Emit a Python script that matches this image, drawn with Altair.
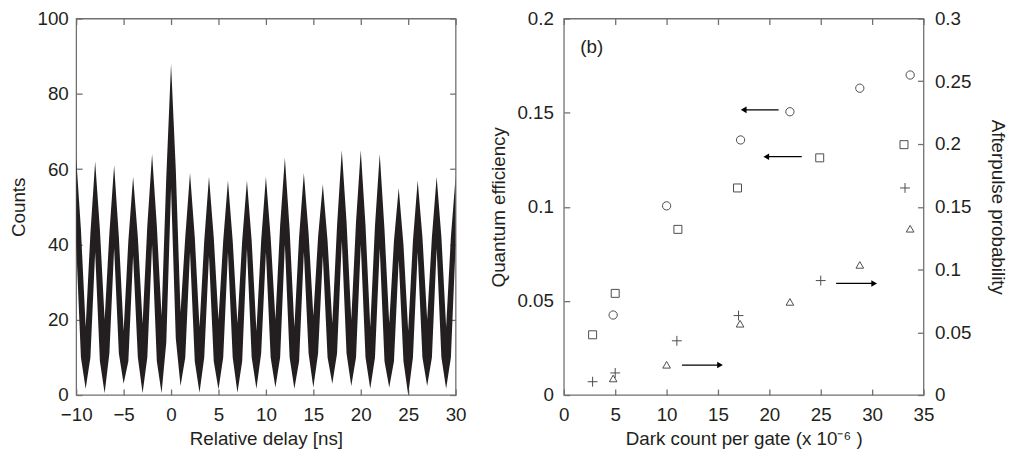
import altair as alt
import pandas as pd

FONT = "Liberation Sans"
TXT = "#231f20"
AXC = "#707070"
FS = 19

# ---------------- left panel: counts vs relative delay ----------------
# upper / lower edge of the dense histogram trace, read every 0.5 ns from -10 to 30 ns
delay_ns = [-10, -9.5, -9, -8.5, -8, -7.5, -7, -6.5, -6, -5.5, -5, -4.5, -4, -3.5, -3, -2.5,
            -2, -1.5, -1, -0.5, 0, 0.5, 1, 1.5, 2, 2.5, 3, 3.5, 4, 4.5, 5, 5.5,
            6, 6.5, 7, 7.5, 8, 8.5, 9, 9.5, 10, 10.5, 11, 11.5, 12, 12.5, 13, 13.5,
            14, 14.5, 15, 15.5, 16, 16.5, 17, 17.5, 18, 18.5, 19, 19.5, 20, 20.5, 21, 21.5,
            22, 22.5, 23, 23.5, 24, 24.5, 25, 25.5, 26, 26.5, 27, 27.5, 28, 28.5, 29, 29.5, 30]
counts_upper = [63, 44, 18, 43, 62, 44, 20, 43, 61, 42, 17, 41, 58, 42, 19, 45,
                64, 45, 21, 58, 88, 60, 22, 42, 59, 42, 18, 41, 58, 42, 20, 41,
                57, 41, 19, 41, 57, 41, 17, 41, 58, 42, 20, 45, 63, 44, 18, 42,
                59, 43, 21, 42, 56, 41, 19, 45, 65, 46, 20, 46, 65, 45, 18, 45,
                64, 44, 19, 41, 55, 40, 17, 41, 57, 42, 20, 42, 58, 42, 18, 42, 58]
counts_lower = [40, 10, 1.7, 10, 38, 9, 0.5, 11, 39, 11, 3, 9, 37, 10, 0.5, 10,
                40, 9, 0.5, 14, 55, 15, 2.4, 10, 38, 9, 0.6, 10, 37, 9, 1.5, 10,
                38, 10, 0.6, 9, 39, 10, 1.7, 11, 38, 10, 2, 10, 40, 10, 1.7, 9,
                38, 11, 2, 11, 37, 10, 3, 11, 41, 11, 2.4, 10, 40, 10, 1.7, 10,
                39, 9, 2, 9, 36, 9, 0, 10, 38, 10, 2.4, 10, 39, 10, 1.7, 10, 40]
delay_ticks = [-10, -5, 0, 5, 10, 15, 20, 25, 30]
count_ticks = [0, 20, 40, 60, 80, 100]

# ---------------- right panel ----------------
qe_circle_x = [4.8, 10.0, 17.2, 22.0, 28.8, 33.7]
qe_circle_y = [0.0425, 0.1005, 0.1355, 0.1505, 0.163, 0.170]
qe_square_x = [2.8, 5.0, 11.1, 16.9, 24.9, 33.1]
qe_square_y = [0.032, 0.054, 0.088, 0.110, 0.126, 0.133]
ap_plus_x = [2.8, 5.0, 11.0, 17.0, 25.0, 33.2]
ap_plus_y = [0.0106, 0.0176, 0.0432, 0.0633, 0.0912, 0.165]
ap_tri_x = [4.8, 10.0, 17.15, 22.0, 28.8, 33.7]
ap_tri_y = [0.0132, 0.0241, 0.0568, 0.0742, 0.1037, 0.1325]
# arrows: left-pointing on the QE axis, right-pointing on the afterpulse axis
arrL_tail = [20.9, 23.15]
arrL_head = [17.5, 19.7]
arrL_y = [0.1515, 0.1266]
arrR_tail = [11.5, 26.5]
arrR_head = [15.2, 30.2]
arrR_y = [0.0239, 0.0889]
dark_ticks = [0, 5, 10, 15, 20, 25, 30, 35]
qe_ticks = [0, 0.05, 0.1, 0.15, 0.2]
ap_ticks = [0, 0.05, 0.1, 0.15, 0.2, 0.25, 0.3]

PLOT_H = 381


def axis(orient, values, labels=True, title=None, fmt=None, pad=9, tpad=10):
    kw = dict(orient=orient, values=values, domain=False, grid=False,
              ticks=True, tickSize=6, offset=-6, tickColor=AXC, tickWidth=1.3,
              minExtent=0, maxExtent=300,
              labels=labels, labelFont=FONT, labelFontSize=FS, labelColor=TXT,
              labelPadding=pad, labelFlush=False, labelOverlap=False,
              titleFont=FONT, titleFontSize=FS, titleFontWeight="normal",
              titleColor=TXT, titlePadding=tpad, title=title)
    if fmt is not None:
        kw["format"] = fmt
    return alt.Axis(**kw)


band = pd.DataFrame({"t": delay_ns, "upper": counts_upper, "lower": counts_lower})
xs_left = alt.Scale(domain=[-10, 30], nice=False, zero=False)
ys_left = alt.Scale(domain=[0, 100], nice=False)

area = alt.Chart(band).mark_area(color=TXT, clip=True).encode(
    x=alt.X("t:Q", scale=xs_left,
            axis=axis("bottom", delay_ticks, title="Relative delay [ns]", pad=10.5, tpad=6)),
    y=alt.Y("upper:Q", scale=ys_left,
            axis=axis("left", count_ticks, title="Counts", pad=8, tpad=9)),
    y2="lower:Q",
)
# carrier of the top and right tick axes only (invisible, zero-size marks)
frame_left = alt.Chart(band).mark_point(opacity=0, size=0, strokeWidth=0, clip=True).encode(
    x=alt.X("t:Q", scale=xs_left, axis=axis("top", delay_ticks, labels=False)),
    y=alt.Y("upper:Q", scale=ys_left, axis=axis("right", count_ticks, labels=False)),
)
left = alt.layer(area, frame_left).resolve_axis(x="independent", y="independent").properties(
    width=384, height=PLOT_H)

xs_r = alt.Scale(domain=[0, 35], nice=False, zero=False)


def qe_y(field, ax=None):
    return alt.Y(field, scale=alt.Scale(domain=[0, 0.2], nice=False), axis=ax)


def ap_y(field, ax=None):
    return alt.Y(field, scale=alt.Scale(domain=[0, 0.3], nice=False), axis=ax)


circ = alt.Chart(pd.DataFrame({"x": qe_circle_x, "y": qe_circle_y})).mark_point(
    shape="circle", filled=False, color="black", size=70, strokeWidth=1).encode(
    x=alt.X("x:Q", scale=xs_r,
            axis=axis("bottom", dark_ticks, title="Dark count per gate (x 10\u207b\u2076 )",
                      pad=10.5, tpad=6)),
    y=qe_y("y:Q", axis("left", qe_ticks, title="Quantum efficiency", fmt=".2~f", pad=10.5, tpad=9)),
)
sq = alt.Chart(pd.DataFrame({"x": qe_square_x, "y": qe_square_y})).mark_point(
    shape="square", filled=False, color="black", size=65, strokeWidth=1).encode(
    x=alt.X("x:Q", scale=xs_r, axis=None), y=qe_y("y:Q"))
plus = alt.Chart(pd.DataFrame({"x": ap_plus_x, "y": ap_plus_y})).mark_point(
    shape="M-1,0H1M0,-1V1", filled=False, color="black", size=100, strokeWidth=1).encode(
    x=alt.X("x:Q", scale=xs_r, axis=axis("top", dark_ticks, labels=False)),
    y=ap_y("y:Q", axis("right", ap_ticks, title="Afterpulse probability", fmt=".2~f", pad=11, tpad=17)),
)
tri = alt.Chart(pd.DataFrame({"x": ap_tri_x, "y": ap_tri_y})).mark_point(
    shape="triangle-up", filled=False, color="black", size=60, strokeWidth=1).encode(
    x=alt.X("x:Q", scale=xs_r, axis=None), y=ap_y("y:Q"))

arrL = pd.DataFrame({"x": arrL_tail, "x2": arrL_head, "y": arrL_y})
arrR = pd.DataFrame({"x": arrR_tail, "x2": arrR_head, "y": arrR_y})
arrL_rule = alt.Chart(arrL).mark_rule(color="black", strokeWidth=1.2).encode(
    x=alt.X("x:Q", scale=xs_r, axis=None), x2="x2:Q", y=qe_y("y:Q"))
arrL_head_m = alt.Chart(arrL).mark_point(shape="triangle-left", filled=True, color="black",
                                         size=45, opacity=1).encode(
    x=alt.X("x2:Q", scale=xs_r, axis=None), y=qe_y("y:Q"))
arrR_rule = alt.Chart(arrR).mark_rule(color="black", strokeWidth=1.2).encode(
    x=alt.X("x:Q", scale=xs_r, axis=None), x2="x2:Q", y=ap_y("y:Q"))
arrR_head_m = alt.Chart(arrR).mark_point(shape="triangle-right", filled=True, color="black",
                                         size=45, opacity=1).encode(
    x=alt.X("x2:Q", scale=xs_r, axis=None), y=ap_y("y:Q"))

label_b = alt.Chart(pd.DataFrame({"x": [1.6], "y": [0.185], "s": ["(b)"]})).mark_text(
    align="left", baseline="middle", font=FONT, fontSize=FS, color=TXT).encode(
    x=alt.X("x:Q", scale=xs_r, axis=None), y=qe_y("y:Q"), text="s:N")

right = alt.layer(circ, sq, arrL_rule, arrL_head_m, label_b, plus, tri, arrR_rule, arrR_head_m
                  ).resolve_scale(y="independent").resolve_axis(
    x="independent", y="independent").properties(width=364, height=PLOT_H)

chart = alt.hconcat(left, right, spacing=20.5).properties(
    padding={"left": 0, "top": -2, "right": 0, "bottom": 0}
).configure_view(stroke=AXC, strokeWidth=1.3)

chart.save("out.html", embed_options={"renderer": "svg", "actions": False})
